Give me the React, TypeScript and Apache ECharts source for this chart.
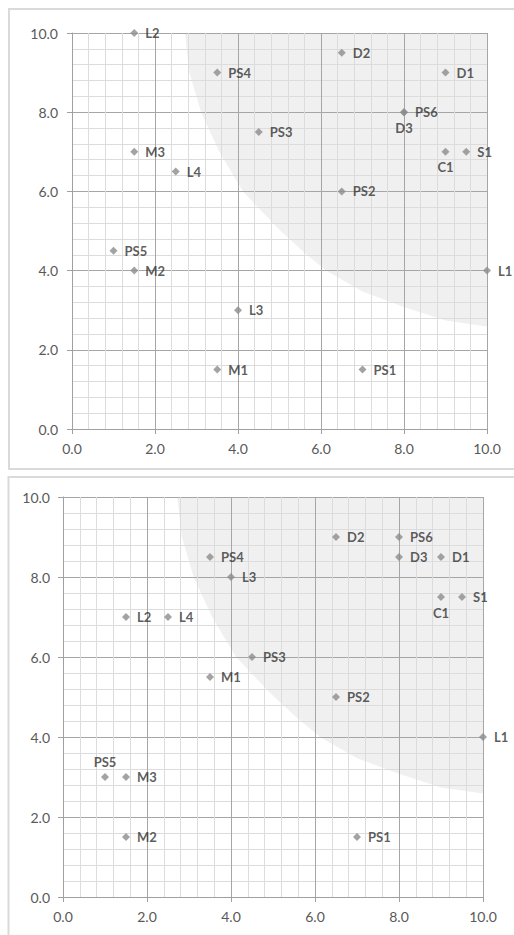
import React, { useEffect, useRef } from "react";
import * as echarts from "echarts";

// ---- Data: top chart ----
const topNames = ["L2", "PS4", "D2", "D1", "PS6", "D3", "PS3", "M3", "L4", "C1", "S1", "PS2", "PS5", "M2", "L1", "L3", "M1", "PS1"];
const topX = [1.5, 3.5, 6.5, 9, 8, 8, 4.5, 1.5, 2.5, 9, 9.5, 6.5, 1, 1.5, 10, 4, 3.5, 7];
const topY = [10, 9, 9.5, 9, 8, 8, 7.5, 7, 6.5, 7, 7, 6, 4.5, 4, 4, 3, 1.5, 1.5];
const topBelow = ["D3", "C1"];
const topAbove: string[] = [];

// ---- Data: bottom chart ----
const botNames = ["D2", "PS6", "D3", "D1", "PS4", "L3", "C1", "S1", "L2", "L4", "PS3", "M1", "PS2", "L1", "PS5", "M3", "M2", "PS1"];
const botX = [6.5, 8, 8, 9, 3.5, 4, 9, 9.5, 1.5, 2.5, 4.5, 3.5, 6.5, 10, 1, 1.5, 1.5, 7];
const botY = [9, 9, 8.5, 8.5, 8.5, 8, 7.5, 7.5, 7, 7, 6, 5.5, 5, 4, 3, 3, 1.5, 1.5];
const botBelow = ["C1"];
const botAbove = ["PS5"];

// ---- Shaded region boundary (data coordinates) ----
const regionX = [2.72, 2.83, 3.11, 3.55, 4.12, 4.57, 5.03, 5.55, 6.12, 7.0, 8.0, 9.0, 10];
const regionY = [10, 9, 8, 7, 6, 5.5, 5, 4.5, 4, 3.47, 3.08, 2.74, 2.59];
const regionCorner = [10, 10];

const axisMin = 0;
const axisMax = 10;
const axisStep = 2;

const FONT = "Lato";

function makePoints(names: string[], xs: number[], ys: number[], below: string[], above: string[]) {
  return names.map((n, i) => {
    const pos = below.includes(n) ? "bottom" : above.includes(n) ? "top" : "right";
    return {
      name: n,
      value: [xs[i], ys[i]],
      label: { position: pos, distance: pos === "right" ? 7 : 5 },
    };
  });
}

function axisCommon(gridIndex: number, margin: number) {
  return {
    type: "value",
    gridIndex,
    min: axisMin,
    max: axisMax,
    interval: axisStep,
    axisLine: { show: true, onZero: false, lineStyle: { color: "#a0a0a0", width: 1 } },
    axisTick: { show: true, inside: false, length: 5, lineStyle: { color: "#a0a0a0" } },
    minorTick: { show: false, splitNumber: 5 },
    splitLine: { show: true, lineStyle: { color: "#a6a6a6", width: 1 } },
    minorSplitLine: { show: true, lineStyle: { color: "#dcdcdc", width: 1 } },
    axisLabel: {
      fontFamily: FONT,
      fontSize: 14,
      color: "#595959",
      margin,
      formatter: (v: number) => v.toFixed(1),
    },
  };
}

function regionSeries(idx: number) {
  return {
    type: "custom",
    xAxisIndex: idx,
    yAxisIndex: idx,
    z: -1,
    silent: true,
    data: [regionCorner],
    renderItem: (_params: any, api: any) => {
      const pts = regionX.map((x, i) => api.coord([x, regionY[i]]));
      pts.push(api.coord(regionCorner));
      return {
        type: "polygon",
        shape: { points: pts },
        style: { fill: "#f0f0f0", stroke: null },
      };
    },
  };
}

function scatterSeries(idx: number, data: any[]) {
  return {
    type: "scatter",
    xAxisIndex: idx,
    yAxisIndex: idx,
    symbol: "diamond",
    symbolSize: 8,
    itemStyle: { color: "#8c8c8c" },
    data,
    label: {
      show: true,
      formatter: "{b}",
      fontFamily: FONT,
      fontWeight: "bold",
      fontSize: 13,
      color: "#333333",
    },
    z: 3,
  };
}

export default function App() {
  const ref = useRef<HTMLDivElement>(null);

  useEffect(() => {
    if (!ref.current) return;
    const chart = echarts.init(ref.current, undefined, { renderer: "svg" });
    chart.setOption({
      animation: false,
      backgroundColor: "#ffffff",
      graphic: [
        {
          type: "rect",
          shape: { x: 9, y: 9, width: 530, height: 460 },
          style: { fill: "none", stroke: "#dadada", lineWidth: 2 },
          silent: true,
        },
        {
          type: "rect",
          shape: { x: 8.5, y: 477, width: 530, height: 480 },
          style: { fill: "none", stroke: "#dadada", lineWidth: 2 },
          silent: true,
        },
      ],
      grid: [
        { left: 72, top: 33, width: 415, height: 396 },
        { left: 63, top: 497, width: 420, height: 400 },
      ],
      xAxis: [axisCommon(0, 12), axisCommon(1, 12)],
      yAxis: [axisCommon(0, 14), axisCommon(1, 13)],
      series: [
        regionSeries(0),
        regionSeries(1),
        scatterSeries(0, makePoints(topNames, topX, topY, topBelow, topAbove)),
        scatterSeries(1, makePoints(botNames, botX, botY, botBelow, botAbove)),
      ],
    });
    return () => chart.dispose();
  }, []);

  return (
    <div
      ref={ref}
      style={{ position: "fixed", left: 0, top: 0, width: 514, height: 935 }}
    />
  );
}
